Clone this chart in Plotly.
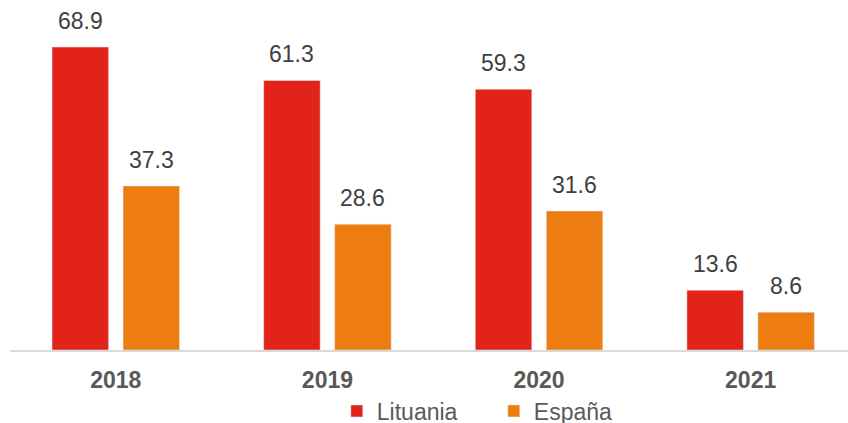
import plotly.graph_objects as go

years = ["2018", "2019", "2020", "2021"]
lituania = [68.9, 61.3, 59.3, 13.6]
espana = [37.3, 28.6, 31.6, 8.6]

RED = "#E2231A"
ORANGE = "#EE7D11"
FONT = "Liberation Sans, Arial"

fig = go.Figure()
fig.add_trace(go.Bar(name="Lituania", x=years, y=lituania, marker_color=RED))
fig.add_trace(go.Bar(name="España", x=years, y=espana, marker_color=ORANGE))

annotations = []
for i, v in enumerate(lituania):
    annotations.append(dict(x=i, y=v, xref="x", yref="y", text=f"{v:.1f}", showarrow=False,
                            xshift=-35.5, yshift=11, yanchor="bottom",
                            font=dict(family=FONT, size=23, color="#404040")))
for i, v in enumerate(espana):
    annotations.append(dict(x=i, y=v, xref="x", yref="y", text=f"{v:.1f}", showarrow=False,
                            xshift=35.5, yshift=11, yanchor="bottom",
                            font=dict(family=FONT, size=23, color="#404040")))

fig.update_layout(
    width=848, height=423,
    margin=dict(l=10, r=0, t=0, b=73, autoexpand=False),
    paper_bgcolor="white", plot_bgcolor="white",
    barmode="group", bargap=0.329, bargroupgap=0.204,
    font=dict(family=FONT, color="#595959"),
    showlegend=True,
    legend=dict(orientation="h", x=0.390, xanchor="left", yref="container", y=12/423,
                yanchor="middle", font=dict(size=23, color="#595959"),
                bgcolor="rgba(0,0,0,0)", itemwidth=30, entrywidth=112),
    annotations=annotations,
)
fig.update_xaxes(type="category", range=[-0.5, 3.46], showline=True, linecolor="#D9D9D9",
                 linewidth=2, ticks="", ticklabelstandoff=8, automargin=False,
                 tickfont=dict(size=23, color="#595959", family=FONT, weight="bold"))
fig.update_yaxes(range=[0, 79.6], visible=False, showgrid=False, zeroline=False,
                 automargin=False)

fig.write_html("out.html", config={"displayModeBar": False},
               post_script="document.body.style.margin='0px';")
